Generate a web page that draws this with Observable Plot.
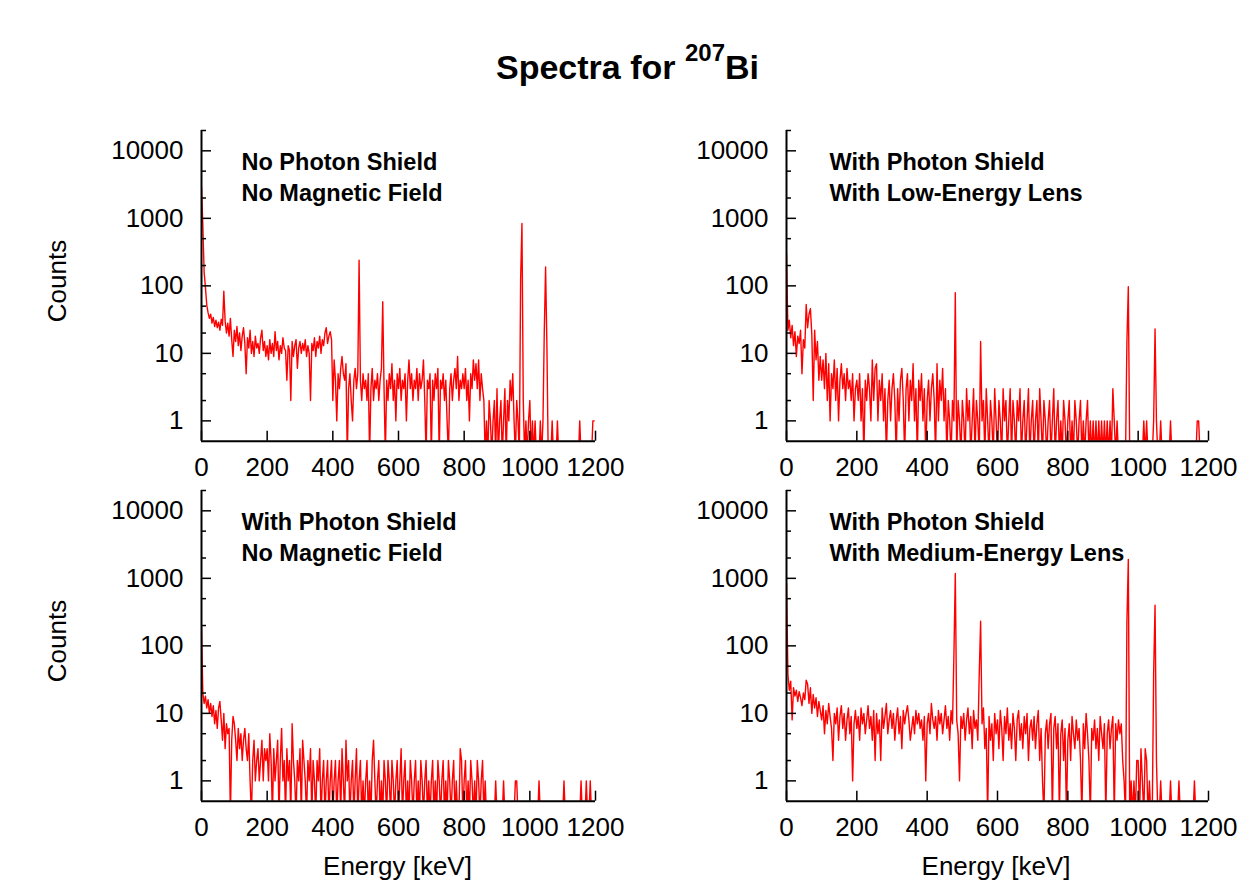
<!DOCTYPE html>
<html>
<head>
<meta charset="utf-8">
<script src="https://cdn.jsdelivr.net/npm/d3@7"></script>
<script src="https://cdn.jsdelivr.net/npm/@observablehq/plot@0.6"></script>
<style>
  html, body { margin: 0; padding: 0; background: #fff; }
  #wrap { position: relative; width: 1245px; height: 881px; overflow: hidden;
          font-family: "Liberation Sans", Arial, Helvetica, sans-serif; color: #000; }
  #title { position: absolute; left: 5px; width: 1245px; top: 50px; height: 34px; line-height: 34px;
           text-align: center; font-weight: bold; font-size: 34px; white-space: nowrap; }
  #title sup { font-size: 24px; position: relative; top: -18px; vertical-align: baseline; line-height: 0; }
  .pane { position: absolute; }
  .ylab { position: absolute; width: 200px; height: 26px; line-height: 26px; font-size: 26px;
          text-align: center; transform: rotate(-90deg); white-space: nowrap; }
  .xlab { position: absolute; width: 300px; height: 26px; line-height: 26px; font-size: 26px;
          text-align: center; white-space: nowrap; }
</style>
</head>
<body>
<div id="wrap">
  <div id="title">Spectra for <sup>207</sup>Bi</div>
</div>
<script>
// ---- Data: counts per 4 keV channel (channel energy = index * 4 keV) ----
const binWidth = 4;

const countsNoShieldNoField = [
  2900, 800, 160, 95, 52, 40, 33, 38, 28, 34, 25, 31, 24, 29, 22, 32, 26, 83, 30, 20, 28, 18, 33, 16, 9,
  22, 15, 25, 13, 20, 11, 18, 24, 14, 5, 17, 12, 22, 10, 15, 9, 18, 12, 14, 10, 17, 22, 11, 15, 9,
  13, 8, 16, 10, 14, 9, 21, 11, 15, 8, 13, 10, 17, 12, 11, 4, 13, 11, 2, 15, 9, 13, 16, 6, 12,
  15, 10, 14, 11, 16, 9, 13, 10, 2, 14, 11, 17, 9, 15, 12, 18, 10, 16, 13, 20, 24, 14, 18, 21, 16,
  2, 8, 4, 1, 5, 3, 6, 9, 5, 4, 7, 0, 3, 5, 2, 1, 4, 6, 3, 5, 240, 4, 2, 5, 3,
  4, 2, 5, 0, 3, 6, 2, 4, 3, 5, 2, 4, 6, 58, 3, 0, 4, 2, 5, 3, 7, 2, 4, 1, 5,
  3, 6, 2, 4, 3, 5, 1, 4, 8, 3, 5, 2, 4, 3, 6, 2, 5, 3, 4, 8, 2, 0, 4, 3, 5,
  0, 4, 2, 5, 3, 6, 0, 4, 3, 5, 2, 4, 1, 0, 3, 5, 2, 4, 6, 3, 9, 2, 4, 3, 5,
  3, 6, 2, 4, 1, 5, 3, 8, 4, 7, 3, 8, 2, 5, 3, 2, 0, 1, 0, 2, 1, 0, 1, 2, 0,
  3, 0, 1, 2, 0, 1, 3, 0, 2, 1, 4, 2, 5, 1, 0, 2, 1, 0, 128, 840, 2, 0, 1, 0, 1,
  2, 0, 1, 0, 1, 0, 0, 0, 1, 0, 1, 21, 190, 13, 0, 0, 0, 1, 0, 0, 0, 1, 0, 0, 0,
  0, 0, 0, 0, 0, 0, 0, 0, 0, 0, 0, 0, 0, 1, 0, 0, 0, 0, 0, 0, 0, 0, 0, 1, 1
];

const countsShieldLowLens = [
  300, 22, 31, 17, 26, 13, 21, 9, 18, 14, 22, 5, 16, 12, 53, 24, 38, 46, 19, 2, 22, 8, 15, 4, 9,
  4, 8, 3, 10, 2, 7, 1, 5, 3, 8, 2, 6, 1, 4, 7, 3, 5, 2, 6, 3, 4, 2, 5, 1, 3,
  4, 2, 5, 1, 3, 0, 4, 2, 5, 3, 1, 8, 2, 6, 7, 1, 4, 2, 5, 1, 3, 0, 2, 4, 1,
  3, 5, 2, 0, 3, 1, 4, 6, 2, 0, 3, 5, 1, 4, 2, 7, 1, 3, 0, 4, 2, 5, 1, 3, 0,
  2, 4, 1, 3, 5, 2, 0, 7, 1, 4, 2, 6, 1, 3, 0, 2, 1, 0, 2, 1, 79, 0, 2, 1, 0,
  2, 1, 0, 3, 1, 2, 0, 1, 3, 0, 2, 1, 0, 15, 1, 2, 0, 3, 1, 0, 2, 1, 0, 3, 1,
  0, 2, 1, 0, 3, 1, 2, 0, 1, 3, 0, 2, 1, 0, 2, 1, 3, 0, 1, 2, 0, 1, 3, 0, 1,
  2, 0, 1, 2, 0, 3, 1, 0, 2, 1, 0, 1, 2, 0, 1, 3, 0, 1, 2, 0, 1, 0, 2, 1, 0,
  1, 2, 0, 1, 0, 2, 1, 0, 1, 2, 0, 1, 0, 1, 2, 0, 1, 0, 1, 0, 1, 0, 1, 0, 1,
  0, 1, 0, 1, 0, 1, 0, 3, 1, 0, 1, 0, 0, 0, 0, 0, 0, 15, 97, 0, 0, 0, 0, 0, 0,
  0, 0, 0, 0, 1, 0, 1, 0, 0, 0, 0, 1, 23, 1, 0, 0, 1, 0, 0, 0, 0, 0, 0, 1, 0,
  0, 0, 0, 0, 0, 0, 0, 0, 0, 0, 0, 0, 0, 0, 0, 0, 0, 1, 1, 0, 0, 0, 0, 0, 0
];

const countsShieldNoField = [
  190, 20, 14, 18, 12, 16, 10, 14, 9, 13, 7, 11, 6, 12, 15, 8, 4, 10, 3, 7, 5, 6, 0, 4, 9,
  7, 4, 2, 6, 3, 5, 2, 4, 6, 3, 2, 5, 1, 0, 2, 4, 1, 2, 3, 1, 2, 4, 1, 3, 2,
  3, 1, 5, 2, 0, 3, 1, 2, 4, 0, 2, 6, 1, 2, 0, 3, 1, 2, 0, 7, 2, 1, 0, 2, 1,
  3, 0, 4, 2, 1, 0, 2, 1, 3, 0, 2, 1, 0, 2, 1, 3, 0, 1, 2, 0, 1, 2, 0, 1, 2,
  0, 1, 2, 0, 1, 2, 0, 3, 1, 0, 4, 1, 2, 0, 1, 2, 0, 1, 3, 0, 1, 2, 0, 1, 0,
  1, 2, 0, 1, 0, 2, 4, 1, 0, 1, 2, 0, 1, 0, 2, 1, 0, 2, 1, 0, 2, 1, 0, 1, 2,
  0, 1, 3, 0, 1, 2, 0, 1, 0, 2, 1, 0, 1, 2, 0, 1, 0, 2, 1, 0, 1, 2, 0, 1, 0,
  1, 2, 0, 1, 0, 2, 1, 0, 1, 2, 0, 1, 0, 2, 1, 0, 1, 2, 0, 1, 0, 0, 3, 2, 0,
  1, 2, 0, 1, 0, 2, 1, 0, 1, 0, 2, 1, 0, 1, 2, 0, 1, 0, 0, 0, 0, 0, 0, 0, 1,
  0, 0, 0, 0, 0, 1, 0, 0, 0, 0, 0, 0, 0, 0, 1, 1, 0, 0, 0, 0, 0, 0, 0, 0, 0,
  0, 0, 0, 0, 0, 0, 0, 1, 0, 0, 0, 0, 0, 0, 0, 0, 0, 0, 0, 0, 0, 0, 0, 0, 0,
  0, 1, 0, 0, 0, 0, 0, 0, 0, 0, 0, 0, 0, 0, 1, 0, 0, 0, 1, 0, 0, 1, 0, 0, 0
];

const countsShieldMediumLens = [
  840, 38, 22, 30, 8, 24, 18, 22, 15, 21, 17, 13, 20, 16, 31, 27, 14, 24, 10, 19, 12, 17, 9, 15, 11,
  8, 13, 5, 11, 7, 14, 9, 6, 2, 10, 7, 12, 4, 9, 13, 6, 10, 4, 8, 12, 5, 9, 1, 7, 11,
  6, 9, 4, 12, 7, 10, 5, 8, 13, 6, 9, 4, 11, 2, 10, 5, 8, 2, 12, 6, 9, 14, 5, 8, 11,
  6, 10, 4, 8, 12, 5, 9, 3, 11, 7, 10, 13, 8, 4, 6, 9, 5, 11, 7, 10, 6, 8, 4, 9, 1,
  7, 10, 5, 14, 8, 6, 9, 4, 11, 7, 10, 5, 8, 13, 6, 9, 4, 11, 7, 70, 1180, 8, 5, 1, 9,
  6, 10, 4, 8, 12, 5, 9, 3, 11, 6, 8, 4, 37, 232, 7, 12, 3, 6, 0, 9, 4, 7, 2, 10, 5,
  8, 3, 11, 6, 2, 9, 5, 12, 4, 7, 3, 10, 6, 2, 8, 11, 4, 7, 3, 9, 5, 10, 2, 6, 8,
  4, 9, 3, 7, 11, 2, 6, 1, 0, 5, 8, 3, 7, 10, 0, 6, 9, 3, 7, 0, 5, 8, 2, 6, 0,
  4, 7, 2, 9, 5, 3, 8, 4, 6, 2, 0, 7, 3, 10, 5, 2, 0, 6, 4, 8, 3, 6, 2, 9, 5,
  3, 7, 0, 5, 8, 3, 6, 9, 0, 7, 4, 8, 5, 7, 2, 1, 0, 227, 1900, 0, 1, 0, 1, 0, 2,
  2, 0, 3, 1, 0, 3, 2, 0, 1, 0, 0, 39, 400, 2, 0, 0, 1, 0, 0, 0, 0, 0, 0, 1, 0,
  0, 0, 0, 0, 1, 0, 0, 0, 0, 0, 0, 0, 0, 0, 0, 1, 0, 0, 0, 0, 0, 0, 0, 0, 0
];

const panelLabels = [
  "No Photon Shield\nNo Magnetic Field",
  "With Photon Shield\nWith Low-Energy Lens",
  "With Photon Shield\nNo Magnetic Field",
  "With Photon Shield\nWith Medium-Energy Lens"
];

const xTicks = [0, 200, 400, 600, 800, 1000, 1200];
const yMajorTicks = [1, 10, 100, 1000, 10000];
const yMinorTicks = [2, 5, 20, 50, 200, 500, 2000, 5000, 20000];
const xDomain = [0, 1200];
const yDomain = [0.5, 20000];
const yAxisTitle = "Counts";
const xAxisTitle = "Energy [keV]";

// ---- Layout ----
const wrap = document.getElementById("wrap");
const series = [countsNoShieldNoField, countsShieldLowLens, countsShieldNoField, countsShieldMediumLens];
const layout = [
  {left: 60,  top: 110, width: 560, ml: 141, mr: 25, dx: 40},
  {left: 640, top: 110, width: 600, ml: 146, mr: 32, dx: 43},
  {left: 60,  top: 470, width: 560, ml: 141, mr: 25, dx: 40},
  {left: 640, top: 470, width: 600, ml: 146, mr: 32, dx: 43}
];

series.forEach((counts, k) => {
  const L = layout[k];
  const data = counts.map((c, i) => ({energy: i * binWidth, count: c}));
  const chart = Plot.plot({
    width: L.width,
    height: 380,
    marginLeft: L.ml,
    marginRight: L.mr,
    marginTop: 20,
    marginBottom: 49.3,
    style: {background: "transparent", fontFamily: "'Liberation Sans', Arial, Helvetica, sans-serif", overflow: "visible", color: "#000"},
    x: {domain: xDomain},
    y: {type: "log", domain: yDomain},
    marks: [
      Plot.line(data, {x: "energy", y: d => Math.max(d.count, 0.3), stroke: "#ff0000", strokeWidth: 1.4, clip: true}),
      Plot.axisY(yMinorTicks, {tickSize: -5, tickFormat: () => "", label: null, strokeWidth: 1.5}),
      Plot.axisY(yMajorTicks, {tickSize: -10, tickPadding: 28, tickFormat: d => String(d), label: null, fontSize: 26, strokeWidth: 1.5}),
      Plot.axisX(xTicks, {tickSize: -10, tickPadding: 26, tickFormat: d => String(d), label: null, fontSize: 26, strokeWidth: 1.5}),
      Plot.ruleX([xDomain[0]], {stroke: "#000", strokeWidth: 2}),
      Plot.ruleY([yDomain[0]], {stroke: "#000", strokeWidth: 2}),
      Plot.text([panelLabels[k]], {frameAnchor: "top-left", dx: L.dx, dy: 17, lineAnchor: "top", textAnchor: "start",
        fontSize: 23.5, fontWeight: "bold", lineHeight: 1.32, fill: "#000"})
    ]
  });
  const pane = document.createElement("div");
  pane.className = "pane";
  pane.style.left = L.left + "px";
  pane.style.top = L.top + "px";
  pane.appendChild(chart);
  wrap.appendChild(pane);
});

// axis titles
[281, 641].forEach(cy => {
  const d = document.createElement("div");
  d.className = "ylab";
  d.textContent = yAxisTitle;
  d.style.left = (57 - 100) + "px";
  d.style.top = (cy - 13) + "px";
  wrap.appendChild(d);
});
[397.5, 996].forEach(cx => {
  const d = document.createElement("div");
  d.className = "xlab";
  d.textContent = xAxisTitle;
  d.style.left = (cx - 150) + "px";
  d.style.top = "853px";
  wrap.appendChild(d);
});
</script>
</body>
</html>
